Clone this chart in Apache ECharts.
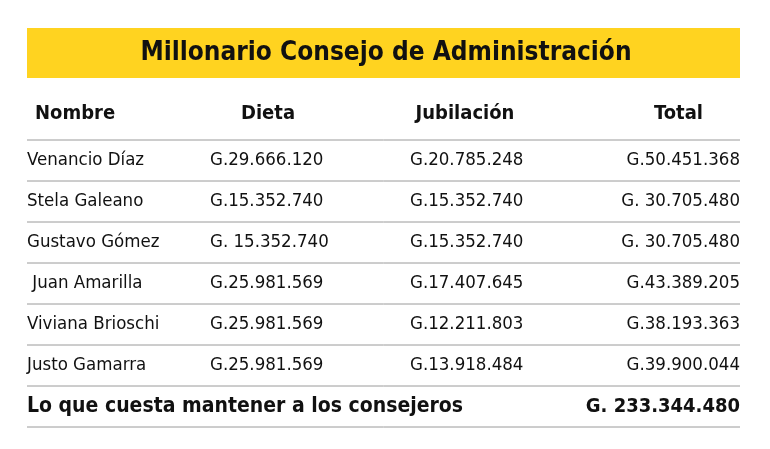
<!DOCTYPE html>
<html>
<head>
<meta charset="utf-8">
<script src="https://cdn.jsdelivr.net/npm/echarts@6/dist/echarts.min.js"></script>
<style>html,body{margin:0;background:#fff}#main{width:770px;height:449px}</style>
</head>
<body>
<div id="main"></div>
<script>
var title = 'Millonario Consejo de Administración';
var headers = ['Nombre', 'Dieta', 'Jubilación', 'Total'];
var names = ['Venancio Díaz', 'Stela Galeano', 'Gustavo Gómez', ' Juan Amarilla', 'Viviana Brioschi', 'Justo Gamarra'];
var dieta = ['G.29.666.120', 'G.15.352.740', 'G. 15.352.740', 'G.25.981.569', 'G.25.981.569', 'G.25.981.569'];
var jubilacion = ['G.20.785.248', 'G.15.352.740', 'G.15.352.740', 'G.17.407.645', 'G.12.211.803', 'G.13.918.484'];
var total = ['G.50.451.368', 'G. 30.705.480', 'G. 30.705.480', 'G.43.389.205', 'G.38.193.363', 'G.39.900.044'];
var totalLabel = 'Lo que cuesta mantener a los consejeros';
var totalSum = 'G. 233.344.480';

var font = '"Liberation Sans Narrow", "DejaVu Sans Condensed", "Liberation Sans", sans-serif';
var rowKeys = ['h'];
names.forEach(function (n, i) { rowKeys.push('r' + i); });
rowKeys.push('t');

var chart = echarts.init(document.getElementById('main'));

function renderRow(params, api) {
  var i = api.value(0);
  var c = api.coord([0, i]);
  var size = api.size([0, 1]);
  var y = c[1];
  var bottom = y + size[1] / 2;
  var kids = [];
  function txt(x, text, align, bold, fs, dy) {
    kids.push({
      type: 'text',
      style: {
        x: x, y: y + (dy || 0), text: text, align: align, verticalAlign: 'middle',
        font: (bold ? 'bold ' : '') + fs + 'px ' + font, fill: '#111'
      }
    });
  }
  if (i === 0) {
    txt(35, headers[0], 'left', true, 20, -6);
    txt(268, headers[1], 'center', true, 20, -6);
    txt(465, headers[2], 'center', true, 20, -6);
    txt(703, headers[3], 'right', true, 20, -6);
  } else if (i === rowKeys.length - 1) {
    txt(27, totalLabel, 'left', true, 21, 0);
    txt(740, totalSum, 'right', true, 20, 0);
  } else {
    var k = i - 1;
    txt(27, names[k], 'left', false, 18.5, 0);
    txt(210, dieta[k], 'left', false, 18.5, 0);
    txt(410, jubilacion[k], 'left', false, 18.5, 0);
    txt(740, total[k], 'right', false, 18.5, 0);
  }
  kids.push({
    type: 'line',
    shape: { x1: 27, y1: bottom, x2: 740, y2: bottom },
    style: { stroke: '#9a9a9a', lineWidth: 1 }
  });
  return { type: 'group', children: kids };
}

chart.setOption({
  animation: false,
  graphic: [
    { type: 'rect', shape: { x: 27, y: 28, width: 713, height: 50 }, style: { fill: '#FFD320' } },
    { type: 'text', style: { x: 386, y: 53, text: title, align: 'center', verticalAlign: 'middle',
      font: 'bold 26px ' + font, fill: '#111' } }
  ],
  grid: { left: 0, right: 0, top: 99, height: 41 * rowKeys.length },
  xAxis: { type: 'value', min: 0, max: 770, show: false },
  yAxis: { type: 'category', data: rowKeys, show: false, inverse: true },
  series: [{
    type: 'custom',
    renderItem: renderRow,
    data: rowKeys.map(function (k, i) { return [i]; }),
    encode: { y: 0 }
  }]
});
</script>
</body>
</html>
